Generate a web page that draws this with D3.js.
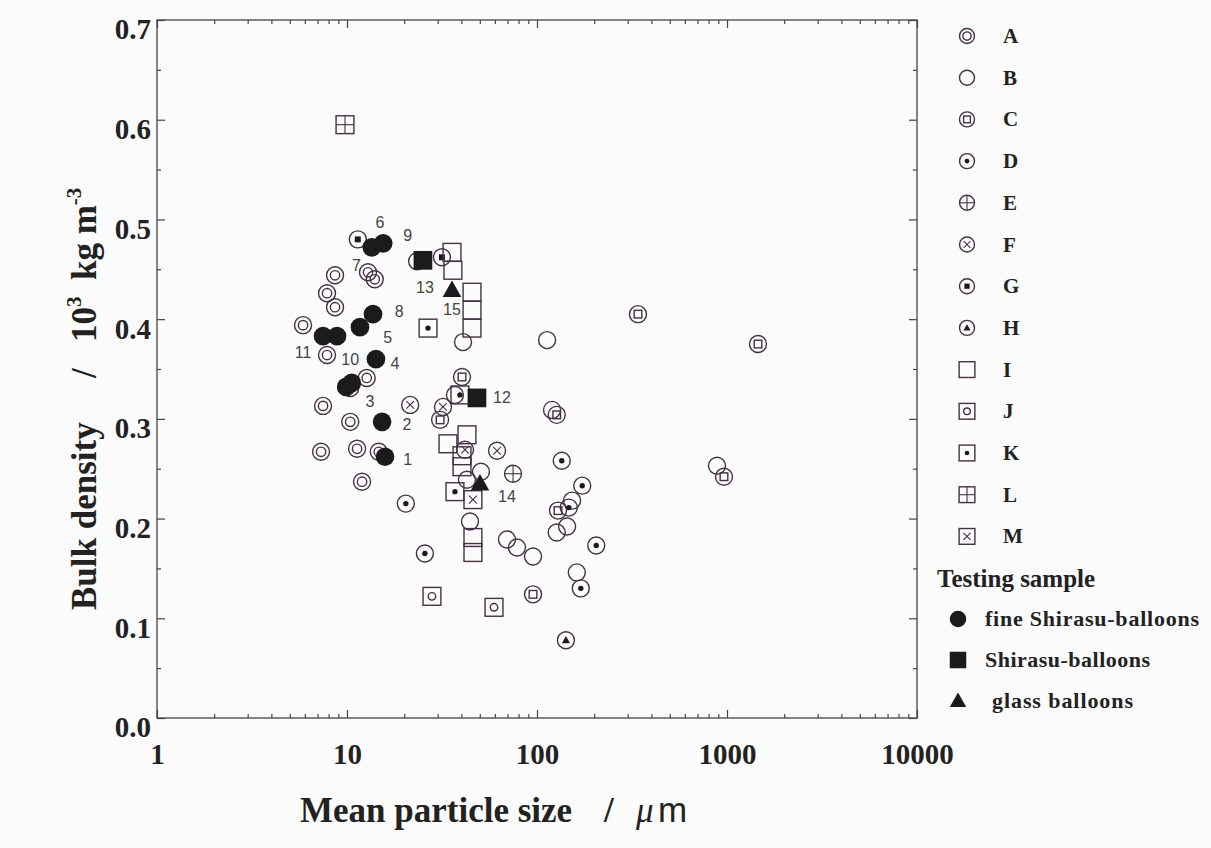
<!DOCTYPE html>
<html lang="en">
<head>
<meta charset="UTF-8" />
<title>Bulk density vs mean particle size</title>
<script src="https://d3js.org/d3.v7.min.js"></script>
<style>
  body { margin: 0; padding: 0; background: #fbfbfb; }
  svg { display: block; }
  .tick text { font-family: 'Liberation Serif', 'DejaVu Serif', serif; font-weight: bold; font-size: 29px; fill: #222; }
  .num { font-family: 'Liberation Sans', Arial, sans-serif; font-size: 16px; fill: #444; }
  .leg { font-family: 'Liberation Serif', serif; fill: #222; }
</style>
</head>
<body>
<svg id="chart" width="1211" height="848"></svg>
<script>
// data: [mean particle size (um), bulk density (10^3 kg m^-3)]
const seriesA = [[8.65,0.444],[7.85,0.426],[8.65,0.412],[5.87,0.394],[7.85,0.364],[12.9,0.447],[14.0,0.440],
  [12.7,0.341],[10.4,0.331],[7.48,0.313],[10.4,0.297],[7.3,0.267],[11.3,0.270],[14.7,0.267],[12.0,0.237]];
const seriesB = [[23.4,0.458],[40.8,0.377],[113,0.379],[37.0,0.324],[120,0.309],[50.7,0.247],[42.8,0.239],
  [44.4,0.197],[69.5,0.179],[78.5,0.171],[95.3,0.162],[153,0.218],[144,0.192],[127,0.186],[162,0.146],[886,0.253]];
const seriesC = [[340,0.405],[1456,0.375],[40.3,0.342],[30.9,0.299],[127,0.304],[129,0.208],[95.3,0.124],[964,0.242]];
const seriesD = [[20.4,0.215],[25.7,0.165],[135,0.258],[173,0.233],[147,0.211],[205,0.173],[170,0.130]];
const seriesE = [[74.8,0.245]];
const seriesF = [[21.5,0.314],[32.0,0.312],[41.8,0.269],[61.6,0.268]];
const seriesG = [[11.4,0.480],[31.6,0.462]];
const seriesH = [[142,0.078]];
const seriesI = [[35.7,0.467],[36.1,0.449],[45.5,0.427],[45.5,0.409],[45.5,0.391],[42.8,0.284],[34.0,0.275],
  [40.3,0.263],[40.3,0.252],[46.0,0.181],[46.0,0.166]];
const seriesJ = [[28.0,0.122],[59.4,0.111]];
const seriesK = [[26.7,0.391],[37.0,0.227],[39.3,0.324]];
const seriesL = [[9.76,0.595]];
const seriesM = [[46.0,0.219]];
const fineShirasu = [[15.85,0.262],[15.3,0.297],[10.6,0.336],[9.9,0.332],[14.2,0.360],[11.7,0.392],[15.5,0.476],
  [13.5,0.472],[13.7,0.405],[8.86,0.383],[7.48,0.383]];
const shirasu = [[25.1,0.459],[48.3,0.321]];
const glass = [[35.7,0.429],[50.1,0.235]];
const pointLabels = [["1",20.9,0.259],["2",20.7,0.294],["3",13.2,0.317],["4",17.9,0.356],["5",16.4,0.382],
  ["6",14.9,0.497],["7",11.2,0.454],["8",18.8,0.408],["9",20.9,0.484],["10",10.4,0.360],["11",5.87,0.367],
  ["12",65.4,0.321],["13",25.7,0.432],["14",69.5,0.222],["15",35.7,0.410]];
const legendKeys = ['A','B','C','D','E','F','G','H','I','J','K','L','M'];
const testingKeys = ['fine', 'shirasu', 'glass'];
const testingNames = ['fine Shirasu-balloons', 'Shirasu-balloons', 'glass balloons'];
const xTicks = [1, 10, 100, 1000, 10000];
const yTicks = [0, 0.1, 0.2, 0.3, 0.4, 0.5, 0.6, 0.7];

const seriesByKey = { A: seriesA, B: seriesB, C: seriesC, D: seriesD, E: seriesE, F: seriesF, G: seriesG,
  H: seriesH, I: seriesI, J: seriesJ, K: seriesK, L: seriesL, M: seriesM,
  fine: fineShirasu, shirasu: shirasu, glass: glass };

const svg = d3.select('#chart');
const ink = '#433242';
const dark = '#1c1a1c';

const x = d3.scaleLog().domain([1, 10000]).range([157, 917]);
const y = d3.scaleLinear().domain([0, 0.7]).range([718, 20]);

// frame
svg.append('rect').attr('x', 157).attr('y', 20).attr('width', 760).attr('height', 698)
  .attr('fill', 'none').attr('stroke', '#444').attr('stroke-width', 1.3);

const xMinor = [];
[1, 10, 100, 1000].forEach((d) => { for (let k = 2; k <= 9; k++) xMinor.push(d * k); });
const yMinor = d3.range(0.05, 0.7, 0.1);

const tidy = (g) => {
  g.select('.domain').remove();
  g.selectAll('line').attr('stroke', '#444').attr('stroke-width', 1.2);
};

svg.append('g').attr('transform', 'translate(0,718)')
  .call(d3.axisBottom(x).tickValues(xTicks).tickSize(-8).tickPadding(25).tickFormat(d3.format('d')))
  .call(tidy);
svg.append('g').attr('transform', 'translate(0,718)')
  .call(d3.axisBottom(x).tickValues(xMinor).tickSize(-4).tickFormat('')).call(tidy);
svg.append('g').attr('transform', 'translate(0,20)')
  .call(d3.axisTop(x).tickValues(xTicks).tickSize(-8).tickFormat('')).call(tidy);
svg.append('g').attr('transform', 'translate(0,20)')
  .call(d3.axisTop(x).tickValues(xMinor).tickSize(-4).tickFormat('')).call(tidy);

const yAx = svg.append('g').attr('transform', 'translate(157,0)')
  .call(d3.axisLeft(y).tickValues(yTicks).tickSize(-8).tickPadding(6).tickFormat(d3.format('.1f')))
  .call(tidy);
yAx.selectAll('text').attr('dy', '0.65em');
svg.append('g').attr('transform', 'translate(157,0)')
  .call(d3.axisLeft(y).tickValues(yMinor).tickSize(-4).tickFormat('')).call(tidy);
svg.append('g').attr('transform', 'translate(917,0)')
  .call(d3.axisRight(y).tickValues(yTicks).tickSize(-8).tickFormat('')).call(tidy);
svg.append('g').attr('transform', 'translate(917,0)')
  .call(d3.axisRight(y).tickValues(yMinor).tickSize(-4).tickFormat('')).call(tidy);

// marker drawing
function drawMarker(g, key, r) {
  const sw = 1.4;
  const circ = (rr) => g.append('circle').attr('r', rr).attr('fill', 'none').attr('stroke', ink).attr('stroke-width', sw);
  const sq = (h) => g.append('rect').attr('x', -h).attr('y', -h).attr('width', 2 * h).attr('height', 2 * h)
    .attr('fill', 'none').attr('stroke', ink).attr('stroke-width', sw);
  const line = (x1, y1, x2, y2) => g.append('line').attr('x1', x1).attr('y1', y1).attr('x2', x2).attr('y2', y2)
    .attr('stroke', ink).attr('stroke-width', 1.1);
  const dot = (rr) => g.append('circle').attr('r', rr).attr('fill', dark);
  const tri = (h, c) => g.append('path').attr('d', `M0,${-h}L${h * 0.95},${h * 0.7}L${-h * 0.95},${h * 0.7}Z`).attr('fill', c);
  const s = r * 1.05;
  switch (key) {
    case 'A': circ(r); circ(r * 0.55); break;
    case 'B': circ(r); break;
    case 'C': circ(r); sq(r * 0.45); break;
    case 'D': circ(r); dot(r * 0.32); break;
    case 'E': circ(r); line(-r, 0, r, 0); line(0, -r, 0, r); break;
    case 'F': circ(r); line(-r * 0.45, -r * 0.45, r * 0.45, r * 0.45); line(-r * 0.45, r * 0.45, r * 0.45, -r * 0.45); break;
    case 'G': circ(r); g.append('rect').attr('x', -r * 0.35).attr('y', -r * 0.35).attr('width', r * 0.7).attr('height', r * 0.7).attr('fill', dark); break;
    case 'H': circ(r); tri(r * 0.5, dark); break;
    case 'I': sq(s); break;
    case 'J': sq(s); circ(s * 0.42); break;
    case 'K': sq(s); dot(s * 0.3); break;
    case 'L': sq(s); line(-s, 0, s, 0); line(0, -s, 0, s); break;
    case 'M': sq(s); line(-s * 0.45, -s * 0.45, s * 0.45, s * 0.45); line(-s * 0.45, s * 0.45, s * 0.45, -s * 0.45); break;
    case 'fine': g.append('circle').attr('r', r * 1.1).attr('fill', dark); break;
    case 'shirasu': g.append('rect').attr('x', -r * 1.1).attr('y', -r * 1.1).attr('width', r * 2.2).attr('height', r * 2.2).attr('fill', dark); break;
    case 'glass': tri(r * 1.15, dark); break;
  }
}

const plot = svg.append('g');
legendKeys.concat(testingKeys).forEach((key) => {
  plot.selectAll(null).data(seriesByKey[key]).join('g')
    .attr('transform', (d) => `translate(${x(d[0])},${y(d[1])})`)
    .each(function () { drawMarker(d3.select(this), key, 8.5); });
});

svg.append('g').selectAll('text').data(pointLabels).join('text')
  .attr('class', 'num')
  .attr('x', (d) => x(d[1])).attr('y', (d) => y(d[2]))
  .attr('text-anchor', 'middle').attr('dominant-baseline', 'central')
  .text((d) => d[0]);

// legend
const leg = svg.append('g');
legendKeys.forEach((key, i) => {
  const yy = 36 + i * 41.7;
  drawMarker(leg.append('g').attr('transform', `translate(967,${yy})`), key, 7.5);
  leg.append('text').attr('class', 'leg').attr('x', 1003).attr('y', yy + 7)
    .attr('font-size', 21).attr('font-weight', 'bold').text(key);
});
leg.append('text').attr('class', 'leg')
  .attr('x', 937).attr('y', 587).attr('font-size', 25).attr('font-weight', 'bold').text('Testing sample');
testingKeys.forEach((key, i) => {
  const yy = 619 + i * 41;
  drawMarker(leg.append('g').attr('transform', `translate(958,${yy})`), key, 7.5);
  leg.append('text').attr('class', 'leg').attr('x', i === 2 ? 992 : 985).attr('y', yy + 7)
    .attr('font-size', 22).attr('font-weight', 'bold').attr('textLength', [214, 165, 141][i]).text(testingNames[i]);
});

// axis titles
svg.append('text').attr('class', 'leg')
  .attr('transform', 'translate(96,610) rotate(-90)')
  .attr('font-size', 35).attr('font-weight', 'bold')
  .call((t) => {
    t.append('tspan').attr('x', 0).text('Bulk density');
    t.append('tspan').attr('x', 232).text('/');
    t.append('tspan').attr('x', 268).text('10');
    t.append('tspan').attr('font-size', 21).attr('dy', -15).text('3');
    t.append('tspan').attr('x', 330).attr('dy', 15).text('kg m');
    t.append('tspan').attr('font-size', 21).attr('dy', -15).text('-3');
  });

svg.append('text').attr('class', 'leg')
  .attr('x', 300).attr('y', 822).attr('font-size', 35).attr('font-weight', 'bold')
  .call((t) => {
    t.append('tspan').text('Mean particle size');
    t.append('tspan').attr('x', 604).text('/');
    t.append('tspan').attr('x', 636).attr('font-style', 'italic').attr('font-weight', 'normal').text('μ');
    t.append('tspan').attr('x', 658).attr('font-family', "'Liberation Sans', sans-serif").attr('font-weight', 'normal').text('m');
  });
</script>
</body>
</html>
